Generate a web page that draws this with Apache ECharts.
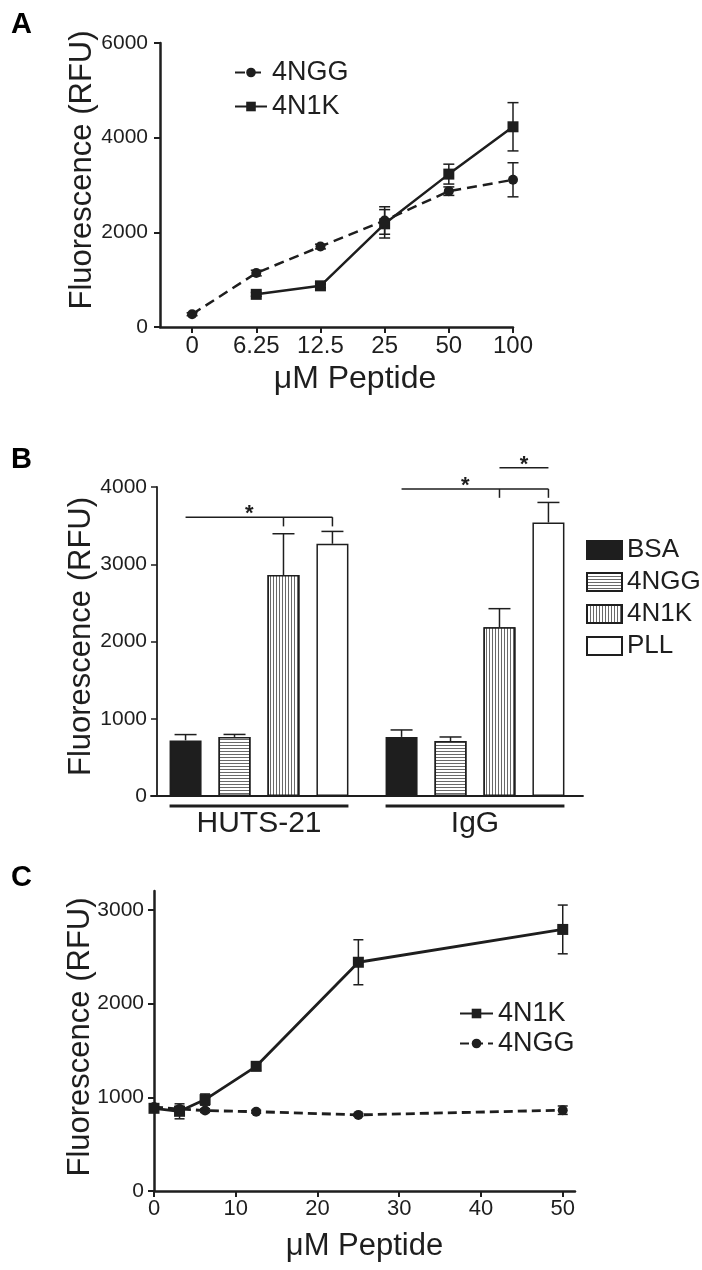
<!DOCTYPE html>
<html>
<head>
<meta charset="utf-8">
<script src="https://cdn.jsdelivr.net/npm/echarts@6/dist/echarts.min.js"></script>
<style>
html,body{margin:0;padding:0;background:#fff;}
.panel{position:absolute;left:0;width:702px;}
#a{top:0;height:400px;}
#b{top:400px;height:440px;}
#c{top:840px;height:430px;}
</style>
</head>
<body>
<div id="a" class="panel"></div>
<div id="b" class="panel"></div>
<div id="c" class="panel"></div>
<script>
// ---- panel A: dose response, categorical doses
var aDoses = ['0', '6.25', '12.5', '25', '50', '100'];
var a4NGG = [270, 1140, 1700, 2250, 2870, 3110];
var a4NGGErr = [30, 60, 50, 290, 90, 360];
var a4N1K = [null, 690, 870, 2180, 3230, 4230];
var a4N1KErr = [null, 40, 40, 300, 210, 510];
var aYTicks = [0, 2000, 4000, 6000];

// ---- panel B: bars per antibody
var bGroups = ['HUTS-21', 'IgG'];
var bNames = ['BSA', '4NGG', '4N1K', 'PLL'];
var bBSA = [720, 765];
var bBSAErr = [75, 90];
var b4NGG = [765, 712];
var b4NGGErr = [32, 52];
var b4N1K = [2860, 2185];
var b4N1KErr = [535, 240];
var bPLL = [3265, 3540];
var bPLLErr = [160, 260];
var bYTicks = [0, 1000, 2000, 3000, 4000];
// significance brackets: [group, fromBar, toBar, line level, drop level, star position (bar units)]
var bBrackets = [
  [0, 0, 3, 3610, 3490, 1.3],
  [1, 0, 3, 3975, 3860, 1.3],
  [1, 2, 3, 4250, null, 2.5]
];

// ---- panel C: dose response, numeric doses
var cDoses = [0, 3.125, 6.25, 12.5, 25, 50];
var c4N1K = [882, 850, 975, 1330, 2440, 2790];
var c4N1KErr = [40, 80, 60, 45, 240, 260];
var c4NGG = [895, 875, 858, 846, 812, 862];
var c4NGGErr = [20, 30, 20, 15, 15, 45];
var cXTicks = [0, 10, 20, 30, 40, 50];
var cYTicks = [0, 1000, 2000, 3000];

var INK = '#1e1e1e';
var FONT = 'Liberation Sans, Arial, sans-serif';

function pairs(xs, ys, errs) {
  var out = [];
  for (var i = 0; i < ys.length; i++) {
    if (ys[i] == null) continue;
    out.push(errs ? [xs[i], ys[i], errs[i]] : [xs[i], ys[i]]);
  }
  return out;
}

function errorBars(capHalf, width) {
  return function (params, api) {
    var x = api.value(0), y = api.value(1), e = api.value(2);
    var t = api.coord([x, y + e]), b = api.coord([x, y - e]);
    var st = { stroke: INK, lineWidth: width };
    return { type: 'group', children: [
      { type: 'line', shape: { x1: t[0], y1: t[1], x2: b[0], y2: b[1] }, style: st },
      { type: 'line', shape: { x1: t[0] - capHalf, y1: t[1], x2: t[0] + capHalf, y2: t[1] }, style: st },
      { type: 'line', shape: { x1: b[0] - capHalf, y1: b[1], x2: b[0] + capHalf, y2: b[1] }, style: st }
    ] };
  };
}

function panelTitle(text, top) {
  return { text: text, left: 6, top: top, textStyle: { fontFamily: FONT, fontSize: 29, fontWeight: 'bold', color: '#000' } };
}

function plain(v) { return String(v); }

function yAxisBase(ticks, max, gap, shift, margin) {
  return {
    type: 'value', min: 0, max: max,
    name: 'Fluorescence (RFU)', nameLocation: 'middle', nameGap: gap, nameMoveOverlap: false,
    nameTextStyle: { fontFamily: FONT, fontSize: 31, color: INK, padding: [0, 0, 0, shift] },
    axisLine: { show: true, onZero: false, lineStyle: { color: INK, width: 2.5 } },
    axisTick: { show: true, customValues: ticks, length: 6, lineStyle: { color: INK, width: 2 } },
    axisLabel: { customValues: ticks, fontFamily: FONT, fontSize: 21, color: INK, margin: margin, formatter: plain },
    splitLine: { show: false }
  };
}

// ================= A =================
var idx = aDoses.map(function (d, i) { return i; });
var chartA = echarts.init(document.getElementById('a'));
chartA.setOption({
  animation: false,
  title: panelTitle('A', 5),
  legend: {
    orient: 'vertical', left: 229, top: 54, itemWidth: 32, itemHeight: 12, itemGap: 7,
    textStyle: { fontFamily: FONT, fontSize: 27, color: INK },
    data: ['4NGG', '4N1K']
  },
  grid: { left: 160, top: 43, width: 353, height: 290 },
  xAxis: {
    type: 'value', min: -0.5, max: 5,
    name: 'μM Peptide', nameLocation: 'middle', nameGap: 36, nameMoveOverlap: false,
    nameTextStyle: { fontFamily: FONT, fontSize: 32, color: INK, padding: [0, 0, 0, 37] },
    axisLine: { onZero: false, lineStyle: { color: INK, width: 2.5 } },
    axisTick: { customValues: idx, length: 6, lineStyle: { color: INK, width: 2 } },
    axisLabel: { customValues: idx, fontFamily: FONT, fontSize: 24, color: INK, margin: 7,
      formatter: function (v) { return aDoses[v]; } },
    splitLine: { show: false }
  },
  yAxis: yAxisBase(aYTicks, 6000, 62, 30, 12),
  series: [
    { name: '4NGG', type: 'line', data: pairs(idx, a4NGG), symbol: 'circle', symbolSize: 10,
      lineStyle: { color: INK, width: 2.5, type: [10, 6] }, itemStyle: { color: INK }, z: 3 },
    { name: '4N1K', type: 'line', data: pairs(idx, a4N1K), symbol: 'rect', symbolSize: 11,
      lineStyle: { color: INK, width: 2.5 }, itemStyle: { color: INK }, z: 3 },
    { type: 'custom', renderItem: errorBars(5.5, 1.5), data: pairs(idx, a4NGG, a4NGGErr), z: 2 },
    { type: 'custom', renderItem: errorBars(5.5, 1.5), data: pairs(idx, a4N1K, a4N1KErr), z: 2 }
  ]
});

// ================= B =================
var BAR_W = 32, BAR_GAP = 0.53;
var pitch = BAR_W * (1 + BAR_GAP);
function barX(api, g, i) {
  return api.coord([g, 0])[0] + (i - (bNames.length - 1) / 2) * pitch;
}
var bVals = [bBSA, b4NGG, b4N1K, bPLL];
var bErrs = [bBSAErr, b4NGGErr, b4N1KErr, bPLLErr];
var bErrData = [];
bVals.forEach(function (vals, i) {
  vals.forEach(function (v, g) { bErrData.push([g, v, bErrs[i][g], i]); });
});
function stripes(vertical) {
  return {
    symbol: 'rect', symbolSize: 1, color: '#6a6a6a', backgroundColor: '#fff',
    dashArrayX: vertical ? [1, 2] : [1, 0],
    dashArrayY: vertical ? [1, 0] : [1, 2],
    rotation: 0
  };
}
var barFill = [
  { color: INK },
  { color: '#fff', decal: stripes(false) },
  { color: '#fff', decal: stripes(true) },
  { color: '#fff' }
];
var bSeries = bNames.map(function (n, i) {
  var st = Object.assign({ borderColor: INK, borderWidth: 1.5 }, barFill[i]);
  return { name: n, type: 'bar', data: bVals[i], barWidth: BAR_W, barGap: (BAR_GAP * 100) + '%', itemStyle: st, z: 3 };
});
bSeries.push({
  type: 'custom', z: 2,
  data: bErrData,
  encode: { x: 0, y: 1 },
  renderItem: function (params, api) {
    var g = api.value(0), v = api.value(1), e = api.value(2), i = api.value(3);
    var x = barX(api, g, i);
    var y0 = api.coord([g, v])[1], y1 = api.coord([g, v + e])[1];
    var st = { stroke: INK, lineWidth: 1.5 };
    return { type: 'group', children: [
      { type: 'line', shape: { x1: x, y1: y0, x2: x, y2: y1 }, style: st },
      { type: 'line', shape: { x1: x - 11, y1: y1, x2: x + 11, y2: y1 }, style: st }
    ] };
  }
});
bSeries.push({
  type: 'custom', z: 4,
  data: bBrackets,
  encode: { x: 0, y: 3 },
  renderItem: function (params, api) {
    var g = api.value(0), from = api.value(1), to = api.value(2);
    var lv = api.value(3), dv = api.value(4), sp = api.value(5);
    var y = api.coord([g, lv])[1];
    var x0 = barX(api, g, from), x1 = barX(api, g, to);
    var st = { stroke: INK, lineWidth: 1.5 };
    var kids = [{ type: 'line', shape: { x1: x0, y1: y, x2: x1, y2: y }, style: st }];
    if (!isNaN(dv)) {
      var yd = api.coord([g, dv])[1];
      [to - 1, to].forEach(function (k) {
        var xk = barX(api, g, k);
        kids.push({ type: 'line', shape: { x1: xk, y1: y, x2: xk, y2: yd }, style: st });
      });
    }
    var sx = barX(api, g, 0) + sp * pitch;
    kids.push({ type: 'text', style: { text: '*', x: sx, y: y - 3, fill: INK, fontFamily: FONT,
      fontSize: 22, fontWeight: 'bold', align: 'center', verticalAlign: 'middle' } });
    return { type: 'group', children: kids };
  }
});
bSeries.push({
  type: 'custom', z: 4,
  data: bGroups.map(function (n, g) { return [g, 0]; }),
  renderItem: function (params, api) {
    var g = api.value(0);
    var y = api.coord([g, 0])[1] + 10;
    var x0 = barX(api, g, 0) - BAR_W / 2, x1 = barX(api, g, bNames.length - 1) + BAR_W / 2;
    return { type: 'line', shape: { x1: x0, y1: y, x2: x1, y2: y }, style: { stroke: INK, lineWidth: 3 } };
  }
});

var chartB = echarts.init(document.getElementById('b'));
var yB = yAxisBase(bYTicks, 4000, 60, 10, 10);
yB.offset = -6;
yB.axisLine.lineStyle.width = 1.8;
yB.axisTick.lineStyle.width = 1.5;
chartB.setOption({
  animation: false,
  title: panelTitle('B', 40),
  legend: {
    orient: 'vertical', left: 581, top: 132, itemWidth: 35, itemHeight: 18, itemGap: 6, icon: 'rect',
    textStyle: { fontFamily: FONT, fontSize: 26, color: INK },
    data: bNames
  },
  grid: { left: 151, top: 87, width: 432, height: 309 },
  xAxis: {
    type: 'category', data: bGroups,
    axisLine: { onZero: false, lineStyle: { color: INK, width: 1.8 } },
    axisTick: { alignWithLabel: true, length: 4, lineStyle: { color: INK, width: 1.5 } },
    axisLabel: { fontFamily: FONT, fontSize: 30, color: INK, margin: 13 }
  },
  yAxis: yB,
  series: bSeries
});

// ================= C =================
var chartC = echarts.init(document.getElementById('c'));
var yC = yAxisBase(cYTicks, 3200, 58, 8, 10);
chartC.setOption({
  animation: false,
  title: panelTitle('C', 18),
  legend: {
    orient: 'vertical', left: 454, top: 155, itemWidth: 33, itemHeight: 12, itemGap: 3,
    textStyle: { fontFamily: FONT, fontSize: 27, color: INK },
    data: ['4N1K', '4NGG']
  },
  grid: { left: 154, top: 51, width: 421, height: 300 },
  xAxis: {
    type: 'value', min: 0, max: 51.5,
    name: 'μM Peptide', nameLocation: 'middle', nameGap: 40, nameMoveOverlap: false,
    nameTextStyle: { fontFamily: FONT, fontSize: 31, color: INK },
    axisLine: { onZero: false, lineStyle: { color: INK, width: 2.5 } },
    axisTick: { customValues: cXTicks, length: 6, lineStyle: { color: INK, width: 2 } },
    axisLabel: { customValues: cXTicks, fontFamily: FONT, fontSize: 22, color: INK, margin: 7 },
    splitLine: { show: false }
  },
  yAxis: yC,
  series: [
    { name: '4N1K', type: 'line', data: pairs(cDoses, c4N1K), symbol: 'rect', symbolSize: 11,
      lineStyle: { color: INK, width: 2.8 }, itemStyle: { color: INK }, z: 3 },
    { name: '4NGG', type: 'line', data: pairs(cDoses, c4NGG), symbol: 'circle', symbolSize: 10,
      lineStyle: { color: INK, width: 2.8, type: [9, 5] }, itemStyle: { color: INK }, z: 3 },
    { type: 'custom', renderItem: errorBars(5, 1.5), data: pairs(cDoses, c4N1K, c4N1KErr), z: 2 },
    { type: 'custom', renderItem: errorBars(5, 1.5), data: pairs(cDoses, c4NGG, c4NGGErr), z: 2 }
  ]
});
</script>
</body>
</html>
